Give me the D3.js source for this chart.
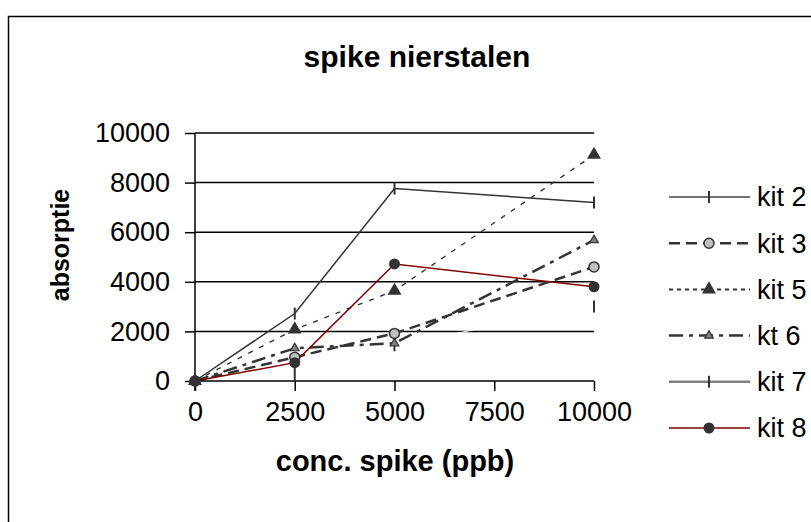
<!DOCTYPE html>
<html><head><meta charset="utf-8">
<script src="https://cdn.jsdelivr.net/npm/d3@7"></script>
<style>body{margin:0;background:#fff}svg{display:block;font-family:"Liberation Sans",Arial,sans-serif}</style>
</head><body><svg id="c" width="811" height="522"></svg>
<script>
const title = "spike nierstalen";
const xTitle = "conc. spike (ppb)";
const yTitle = "absorptie";
const xValues = [0, 2500, 5000, 10000];
const xTicks = [0, 2500, 5000, 7500, 10000];
const yTicks = [0, 2000, 4000, 6000, 8000, 10000];
const seriesNames = ["kit 2", "kit 3", "kit 5", "kt 6", "kit 7", "kit 8"];
const kit2 = [0, 2720, 7760, 7200];
const kit3 = [0, 960, 1920, 4600];
const kit5 = [0, 2080, 3640, 9120];
const kt6  = [0, 1320, 1520, 5680];
const kit7 = [0, 280, 1440, 3000];
const kit8 = [0, 740, 4720, 3800];

const svg = d3.select("#c");
const x = d3.scaleLinear().domain([0, 10000]).range([195, 594]);
const y = d3.scaleLinear().domain([0, 10000]).range([381, 133]);

// border
svg.append("rect").attr("x", 8.5).attr("y", 16.5).attr("width", 830).attr("height", 530)
  .attr("fill", "#fff").attr("stroke", "#000").attr("stroke-width", 1.5);

// title
svg.append("text").attr("x", 417).attr("y", 67).attr("text-anchor", "middle")
  .attr("font-weight", "bold").attr("font-size", 30).text(title);

// gridlines
svg.append("g").selectAll("line").data(yTicks.filter(d => d > 0)).join("line")
  .attr("x1", x(0)).attr("x2", x(10000)).attr("y1", d => y(d)).attr("y2", d => y(d))
  .attr("stroke", "#000").attr("stroke-width", 1.5);

// styles
const styles = {
  "kit 2": {data: kit2, stroke: "#333", width: 1.5, dash: null, marker: "bar", legendStroke: "#444", legendWidth: 1.5, legendDash: null},
  "kit 3": {data: kit3, stroke: "#333", width: 2.5, dash: "11,6", marker: "circle", legendStroke: "#333", legendWidth: 2.5, legendDash: "11,6"},
  "kit 5": {data: kit5, stroke: "#333", width: 1.4, dash: "5,7", marker: "bigtri", legendStroke: "#333", legendWidth: 2, legendDash: "4,4"},
  "kt 6":  {data: kt6,  stroke: "#333", width: 2.5, dash: "14,6,4,6", marker: "smalltri", legendStroke: "#333", legendWidth: 2.5, legendDash: "14,6,4,6"},
  "kit 7": {data: kit7, stroke: "#fff", width: 1, dash: null, marker: "bar", legendStroke: "#808080", legendWidth: 2.5, legendDash: null},
  "kit 8": {data: kit8, stroke: "#800000", width: 1.5, dash: null, marker: "dot", legendStroke: "#800000", legendWidth: 1.5, legendDash: null}
};

function drawMarker(g, type, cx, cy) {
  if (type === "bar") {
    g.append("line").attr("x1", cx).attr("x2", cx).attr("y1", cy - 6).attr("y2", cy + 6)
      .attr("stroke", "#333").attr("stroke-width", 2);
  } else if (type === "circle") {
    g.append("circle").attr("cx", cx).attr("cy", cy).attr("r", 5)
      .attr("fill", "#c0c0c0").attr("stroke", "#333").attr("stroke-width", 1.5);
  } else if (type === "dot") {
    g.append("circle").attr("cx", cx).attr("cy", cy).attr("r", 5.5).attr("fill", "#333");
  } else if (type === "bigtri") {
    g.append("path").attr("d", d3.symbol(d3.symbolTriangle, 85)())
      .attr("transform", `translate(${cx},${cy})`).attr("fill", "#333");
  } else if (type === "smalltri") {
    g.append("path").attr("d", d3.symbol(d3.symbolTriangle, 32)())
      .attr("transform", `translate(${cx},${cy})`).attr("fill", "#808080")
      .attr("stroke", "#333").attr("stroke-width", 1.2);
  }
}

const line = d3.line().x((d, i) => x(xValues[i])).y(d => y(d));
const drawOrder = ["kit 7", "kit 2", "kit 3", "kit 5", "kt 6", "kit 8"];
const plot = svg.append("g");
drawOrder.forEach(name => {
  const s = styles[name];
  plot.append("path").datum(s.data).attr("d", line).attr("fill", "none")
    .attr("stroke", s.stroke).attr("stroke-width", s.width)
    .attr("stroke-dasharray", s.dash);
});

// axes
const yAxis = d3.axisLeft(y).tickValues(yTicks).tickSize(10).tickFormat(d3.format("d"));
const yg = svg.append("g").attr("transform", `translate(${x(0)},0)`).call(yAxis);
yg.select(".domain").attr("d", `M0,${y(10000)}V${y(0) + 10}`).attr("stroke", "#000").attr("stroke-width", 1.5);
yg.selectAll(".tick line").attr("stroke", "#000").attr("stroke-width", 1.5);
yg.selectAll(".tick text").attr("x", -25).attr("font-size", 27).attr("fill", "#000")
  .attr("font-family", "Liberation Sans, Arial, sans-serif");

const xAxis = d3.axisBottom(x).tickValues(xTicks).tickSize(10).tickFormat(d3.format("d"));
const xg = svg.append("g").attr("transform", `translate(0,${y(0)})`).call(xAxis);
xg.select(".domain").attr("d", `M${x(0)},0H${x(10000)}`).attr("stroke", "#000").attr("stroke-width", 1.5);
xg.selectAll(".tick line").attr("stroke", "#000").attr("stroke-width", 1.5);
xg.selectAll(".tick text").attr("y", 21).attr("font-size", 27).attr("fill", "#000")
  .attr("font-family", "Liberation Sans, Arial, sans-serif");

// markers
const mg = svg.append("g");
drawOrder.forEach(name => {
  const s = styles[name];
  s.data.forEach((v, i) => drawMarker(mg, s.marker, x(xValues[i]), y(v)));
});

// axis titles
svg.append("text").attr("x", 395).attr("y", 471).attr("text-anchor", "middle")
  .attr("font-weight", "bold").attr("font-size", 29).text(xTitle);
svg.append("text").attr("transform", "translate(69,245) rotate(-90)").attr("text-anchor", "middle")
  .attr("font-weight", "bold").attr("font-size", 25).text(yTitle);

// legend
const legendY = d3.scalePoint().domain(seriesNames).range([197, 428]);
const lg = svg.append("g");
seriesNames.forEach(name => {
  const s = styles[name];
  const ly = legendY(name);
  lg.append("line").attr("x1", 669).attr("x2", 750).attr("y1", ly).attr("y2", ly)
    .attr("stroke", s.legendStroke).attr("stroke-width", s.legendWidth)
    .attr("stroke-dasharray", s.legendDash);
  drawMarker(lg, s.marker, 709, ly);
  lg.append("text").attr("x", 757).attr("y", ly).attr("dy", "0.35em").attr("font-size", 27).text(name);
});
</script></body></html>
